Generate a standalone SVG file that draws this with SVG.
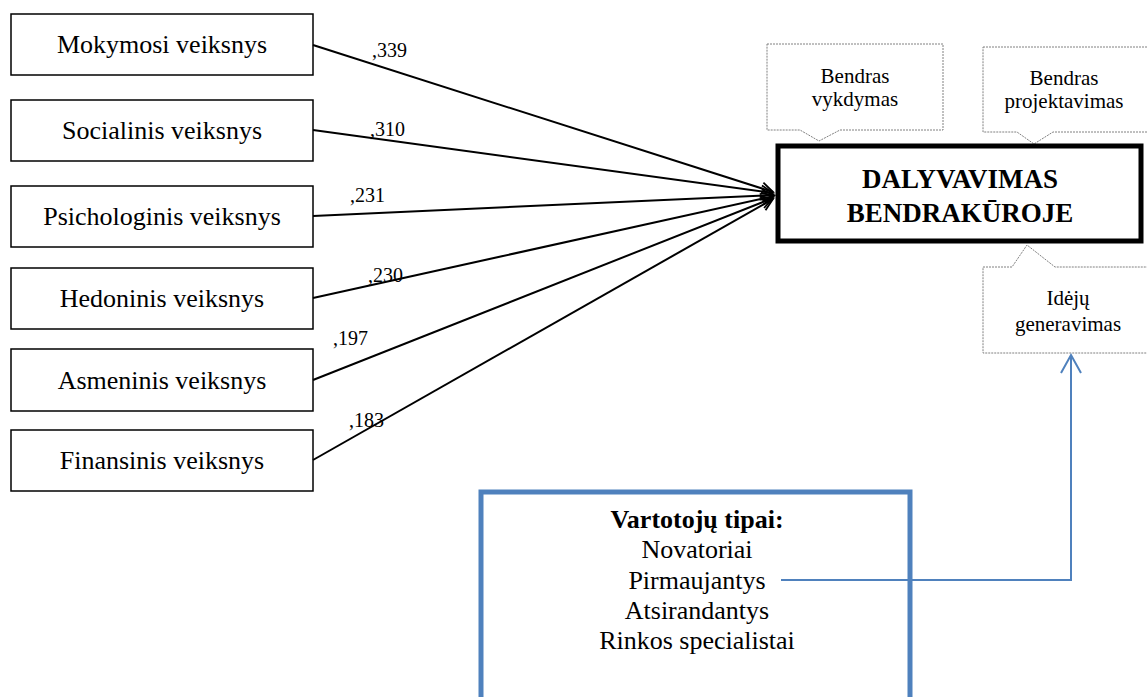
<svg xmlns="http://www.w3.org/2000/svg" width="1147" height="697" viewBox="0 0 1147 697">
<style>
text{font-family:"Liberation Serif","Times New Roman",serif;fill:#000}
.box{fill:#fff;stroke:#000;stroke-width:1.5}
.lbl{font-size:26px;text-anchor:middle}
.coef{font-size:20px}
.call{fill:#fff;stroke:#808080;stroke-width:1;stroke-dasharray:2 1}
.ct{font-size:21px;text-anchor:middle}
.vt{font-size:26px;text-anchor:middle}
.conn{stroke:#000;stroke-width:2;fill:none;marker-end:url(#ah)}
.blue{stroke:#4F81BD;stroke-width:2;fill:none;marker-end:url(#bh)}
</style>
<defs>
<marker id="ah" markerUnits="userSpaceOnUse" markerWidth="16" markerHeight="16" refX="14" refY="8" orient="auto">
<path d="M2,2 L14,8 L2,14" fill="none" stroke="#000" stroke-width="1.8"/>
</marker>
<marker id="bh" markerUnits="userSpaceOnUse" markerWidth="24" markerHeight="24" refX="20" refY="12" orient="auto">
<path d="M2,2 L20,12 L2,22" fill="none" stroke="#4F81BD" stroke-width="2"/>
</marker>
</defs>
<rect width="1147" height="697" fill="#fff"/>

<g id="mokymosi"><rect class="box" x="11" y="14" width="302" height="61"/><text class="lbl" x="162" y="53">Mokymosi veiksnys</text></g>
<g id="socialinis"><rect class="box" x="11" y="100" width="302" height="61"/><text class="lbl" x="162" y="139">Socialinis veiksnys</text></g>
<g id="psichologinis"><rect class="box" x="11" y="186" width="302" height="61"/><text class="lbl" x="162" y="225">Psichologinis veiksnys</text></g>
<g id="hedoninis"><rect class="box" x="11" y="268" width="302" height="61"/><text class="lbl" x="162" y="307">Hedoninis veiksnys</text></g>
<g id="asmeninis"><rect class="box" x="11" y="349" width="302" height="62"/><text class="lbl" x="162" y="389">Asmeninis veiksnys</text></g>
<g id="finansinis"><rect class="box" x="11" y="430" width="302" height="61"/><text class="lbl" x="162" y="469">Finansinis veiksnys</text></g>

<g id="callout-vykdymas">
<path class="call" d="M767,44 H943 V130 H840 L819,141 L800,130 H767 Z"/>
<text class="ct" x="855" y="83">Bendras</text>
<text class="ct" x="855" y="106">vykdymas</text>
</g>
<g id="callout-projektavimas">
<path class="call" d="M983,47 H1150 V132 H1053 L1034,144 L1017,132 H983 Z"/>
<text class="ct" x="1064" y="85">Bendras</text>
<text class="ct" x="1064" y="108">projektavimas</text>
</g>

<g id="dalyvavimas">
<rect x="778" y="146" width="363" height="95" fill="#fff" stroke="#000" stroke-width="5"/>
<text x="960" y="188" font-size="27" font-weight="bold" text-anchor="middle">DALYVAVIMAS</text>
<text x="960" y="222" font-size="27" font-weight="bold" text-anchor="middle">BENDRAKŪROJE</text>
</g>

<g id="callout-ideju">
<path class="call" d="M983,267 H1012 L1027,245 L1055,267 H1150 V353 H983 Z"/>
<text class="ct" x="1068" y="305">Idėjų</text>
<text class="ct" x="1068" y="331">generavimas</text>
</g>

<g id="vartotoju-tipai">
<path d="M481,700 V492 H910 V700" fill="none" stroke="#4F81BD" stroke-width="5"/>
<text class="vt" x="697" y="528" font-weight="bold">Vartotojų tipai:</text>
<text class="vt" x="697" y="558">Novatoriai</text>
<text class="vt" x="697" y="589">Pirmaujantys</text>
<text class="vt" x="697" y="619">Atsirandantys</text>
<text class="vt" x="697" y="649">Rinkos specialistai</text>
</g>

<g id="connectors">
<line class="conn" x1="313" y1="45" x2="773" y2="192"/>
<line class="conn" x1="313" y1="130" x2="773" y2="193"/>
<line class="conn" x1="313" y1="216" x2="774" y2="195"/>
<line class="conn" x1="313" y1="298" x2="774" y2="196"/>
<line class="conn" x1="313" y1="380" x2="773" y2="198"/>
<line class="conn" x1="313" y1="460" x2="773" y2="199"/>
<polyline class="blue" points="781,580 1071,580 1071,355"/>
<text class="coef" x="372" y="57">,339</text>
<text class="coef" x="370" y="136">,310</text>
<text class="coef" x="350" y="202">,231</text>
<text class="coef" x="368" y="282">,230</text>
<text class="coef" x="333" y="345">,197</text>
<text class="coef" x="349" y="427">,183</text>
</g>
</svg>
